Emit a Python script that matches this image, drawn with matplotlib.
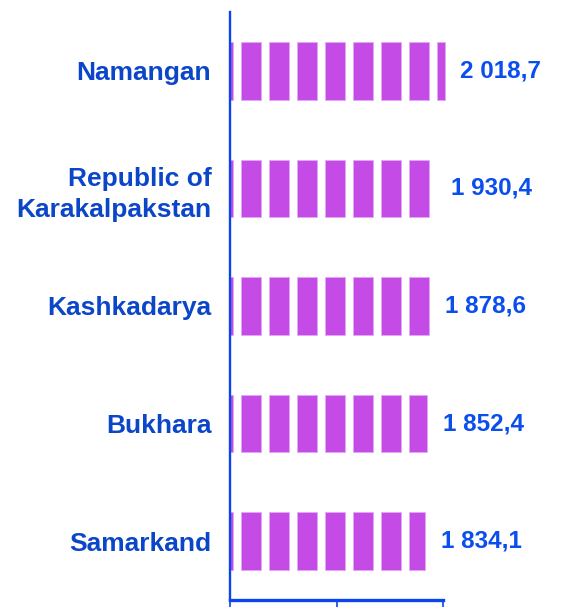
import matplotlib
matplotlib.use("Agg")
import matplotlib.pyplot as plt
import numpy as np

categories = ["Namangan", "Republic of\nKarakalpakstan", "Kashkadarya", "Bukhara", "Samarkand"]
values = [2018.7, 1930.4, 1878.6, 1852.4, 1834.1]
value_labels = ["2 018,7", "1 930,4", "1 878,6", "1 852,4", "1 834,1"]
x_ticks = [0, 1000, 2000]

BAR_COLOR = "#C44BE6"
LABEL_COLOR = "#0B46C8"
VALUE_COLOR = "#0A4EEE"
AXIS_COLOR = "#0A44F0"

# stripe pattern (style): segment period, offset and width in data units
PERIOD = 263.0
OFFSET = 103.0
SEG_W = 192.0

plt.rcParams['font.family'] = ['Liberation Sans', 'DejaVu Sans']

fig = plt.figure(figsize=(5.63, 6.07), dpi=100)
ax = fig.add_axes([230/563, 1 - 600/607, (443 - 230)/563, (600 - 12)/607])

ypos = np.arange(len(categories))
for y, v in zip(ypos, values):
    segs = []
    k = -1
    while True:
        s = OFFSET + k * PERIOD
        if s >= v:
            break
        a = max(s, 0.0)
        b = min(s + SEG_W, v)
        if b > a:
            segs.append((a, b - a))
        k += 1
    ax.broken_barh(segs, (y - 0.245, 0.49), facecolors=BAR_COLOR,
                   edgecolor="#E6A8F4", linewidth=0.6, clip_on=False)

for y, v, lab in zip(ypos, values, value_labels):
    ax.annotate(lab, xy=(v, y), xytext=(11, 0), textcoords="offset points",
                ha="left", va="center", fontsize=17.5, fontweight="bold",
                color=VALUE_COLOR, annotation_clip=False)

ax.set_ylim(len(categories) - 0.5, -0.5)
ax.set_xlim(0, 2000)
ax.set_yticks(ypos)
ax.set_yticklabels(categories, fontsize=19, fontweight="bold", color=LABEL_COLOR,
                   linespacing=1.35)
ax.tick_params(axis="y", length=0, pad=13.5)
ax.set_xticks(x_ticks)
ax.set_xticklabels([])
ax.tick_params(axis="x", direction="out", length=6, width=1.2, color=AXIS_COLOR)

for side in ["top", "right"]:
    ax.spines[side].set_visible(False)
ax.spines["left"].set_color(AXIS_COLOR)
ax.spines["left"].set_linewidth(1.7)
ax.spines["bottom"].set_color(AXIS_COLOR)
ax.spines["bottom"].set_linewidth(2.4)
ax.set_facecolor("none")

fig.savefig("out.png", dpi=100, facecolor="white")
